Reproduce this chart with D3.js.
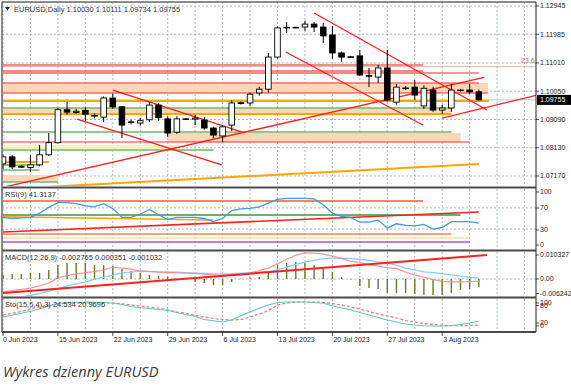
<!DOCTYPE html>
<meta charset="utf-8">
<title>EURUSD daily</title>
<style>
body { margin: 0; background: #fff; }
svg { display: block; }
text { font-family: "Liberation Sans", Arial, sans-serif; fill: #222; }
.ax { font-size: 7px; }
.hd { font-size: 7.5px; fill: #333; }
.caption { font-family: "Open Sans", sans-serif; font-style: italic; font-size: 14.6px; fill: #3a3a3a; }
</style>
<script src="https://cdnjs.cloudflare.com/ajax/libs/d3/7.8.5/d3.min.js"></script>
<body>
<script>
var W = 571, H = 386;

// bars: 8 Jun .. 8 Aug 2023 (broker feed with sunday bars)
var dateLabels = ["0 Jun 2023", "15 Jun 2023", "22 Jun 2023", "29 Jun 2023", "6 Jul 2023",
                  "13 Jul 2023", "20 Jul 2023", "27 Jul 2023", "3 Aug 2023"];
var openP  = [1.0758,1.0782,1.0750,1.0746,1.0755,1.0789,1.0830,1.0942,1.0933,1.0940,1.0920,1.0917,1.0982,1.0952,1.0900,1.0897,1.0908,1.0958,1.0911,1.0866,1.0911,1.0910,1.0907,1.0880,1.0853,1.0890,1.0963,1.0965,1.0999,1.1012,1.1121,1.1220,1.1222,1.1223,1.1233,1.1223,1.1196,1.1135,1.1122,1.1125,1.1058,1.1053,1.1084,1.0968,1.1016,1.1019,1.0955,1.1009,1.0941,1.0948,1.1009,1.1009,1.10030];
var highP  = [1.0790,1.0789,1.0753,1.0788,1.0822,1.0863,1.0948,1.0969,1.0945,1.0950,1.0930,1.0987,1.0997,1.0955,1.0908,1.0915,1.0968,1.0965,1.0920,1.0920,1.0914,1.0925,1.0917,1.0885,1.0890,1.0975,1.0970,1.1000,1.1020,1.1135,1.1225,1.1240,1.1224,1.1245,1.1240,1.1237,1.1227,1.1140,1.1125,1.1145,1.1084,1.1094,1.1145,1.1030,1.1022,1.1043,1.1025,1.1020,1.0960,1.1030,1.1012,1.1030,1.10111];
var lowP   = [1.0740,1.0741,1.0744,1.0731,1.0750,1.0785,1.0828,1.0925,1.0928,1.0904,1.0912,1.0900,1.0945,1.0846,1.0892,1.0888,1.0900,1.0905,1.0850,1.0860,1.0907,1.0890,1.0875,1.0845,1.0833,1.0870,1.0960,1.0955,1.0990,1.1000,1.1115,1.1203,1.1219,1.1210,1.1206,1.1169,1.1115,1.1105,1.1118,1.1057,1.1019,1.1033,1.0970,1.0960,1.1010,1.0975,1.0945,1.0935,1.0928,1.0935,1.1004,1.0995,1.09734];
var closeP = [1.0782,1.0748,1.0747,1.0755,1.0789,1.0830,1.0942,1.0934,1.0937,1.0927,1.0923,1.0982,1.0952,1.0890,1.0901,1.0905,1.0958,1.0915,1.0863,1.0911,1.0910,1.0914,1.0880,1.0856,1.0884,1.0965,1.0966,1.0995,1.1012,1.1121,1.1220,1.1222,1.1221,1.1233,1.1223,1.1193,1.1135,1.1121,1.1121,1.1060,1.1056,1.1084,1.0975,1.1019,1.1016,1.0992,1.1015,1.0941,1.0948,1.1009,1.1009,1.1003,1.09755];

var rsi = [52,50,51,52,60,71,80,80,78,74,72,78,69,52,52,58,67,57,48,52,52,52,50,44,50,65,68,69,72,79,86,88,88,88,87,76,60,54,52,43,43,47,32,40,37,36,39,30,33,44,44,44,41.31];
var macdHist = [0.0018,0.00215,0.00215,0.00258,0.00258,0.00387,0.0060,0.0069,0.0069,0.0069,0.0060,0.0060,0.0056,0.0043,0.0034,0.0026,0.0017,0.0013,0.0009,0.0003,0.0002,-0.0013,-0.0017,-0.0026,-0.0026,-0.0013,0.0002,0.0005,0.0009,0.0030,0.0060,0.0069,0.0073,0.0069,0.0060,0.0047,0.0030,0.0009,-0.0002,-0.0030,-0.0039,-0.0043,-0.0060,-0.0060,-0.0060,-0.0065,-0.0069,-0.0069,-0.0069,-0.0060,-0.0047,-0.0043,-0.0034];
var macdBlue = [-0.0090,-0.0085,-0.0078,-0.0070,-0.0063,-0.0052,-0.0042,-0.0030,-0.0021,-0.0012,-0.0002,0.0008,0.0017,0.0026,0.0030,0.0034,0.0033,0.0031,0.0030,0.0029,0.0027,0.0026,0.0024,0.0022,0.0022,0.0023,0.0025,0.0027,0.0029,0.0031,0.0040,0.0050,0.0063,0.0073,0.0080,0.0088,0.0090,0.0090,0.0088,0.0085,0.0080,0.0074,0.0068,0.0060,0.0047,0.0039,0.0031,0.0027,0.0023,0.0018,0.0012,0.0007,0.00035];
var macdPink = [-0.0056,-0.0050,-0.0045,-0.0039,-0.0030,-0.0018,0.0005,0.0015,0.0022,0.0027,0.0032,0.0039,0.0050,0.0047,0.0042,0.0035,0.0032,0.0030,0.0028,0.0026,0.0025,0.0023,0.0021,0.0018,0.0017,0.0017,0.0018,0.0026,0.0036,0.0047,0.0065,0.0085,0.0103,0.0112,0.0111,0.0107,0.0098,0.0088,0.0077,0.0070,0.0062,0.0055,0.0049,0.0045,0.0030,0.0018,0.0008,-0.0002,-0.0010,-0.0012,-0.0012,-0.0011,-0.0010];
var stoMain = [40,48,55,63,72,84,95,97,98,100,99,98,96,90,82,77,74,70,66,58,50,42,30,25,20,28,45,60,75,88,98,100,100,100,98,95,85,76,68,58,48,38,28,20,12,8,5,4,4,6,10,16,24];
var stoSig  = [48,55,62,72,80,88,92,96,96,96,96,96,96,93,88,84,80,76,68,60,54,46,40,34,30,28,30,40,52,65,88,96,100,100,100,98,94,88,80,72,62,52,44,36,26,20,14,10,7,5,5,6,8];

var priceTicks = [1.12945, 1.11985, 1.11010, 1.10050, 1.09090, 1.08130, 1.07170];
var lastPrice = 1.09755;
var fibLevel = 1.10883;

// levels: [price, fromBar, toBar]
var redLevels    = [[1.10941,0,45.9],[1.10737,0,45.9],[1.10669,0,52],[1.10329,0,52],[1.09990,0,53],[1.08325,0,51]];
var orangeLevels = [[1.09718,0,53.1],[1.09276,0,49],[1.07646,0,5]];
var greenLevels  = [[1.09480,0,49],[1.08665,0,49],[1.08053,0,23],[1.07544,0,4],[1.07374,0,4],[1.06966,0,6]];
// zones: [top, bottom, fromBar, toBar]
var peachZones   = [[1.10329,1.09990,0,53],[1.09480,1.09276,0,49],[1.08631,1.08325,18,50],[1.07204,1.06966,0,6]];
var pinkZones    = [[1.10985,1.10900,0,45.9],[1.10770,1.10640,0,45.9]];
var yellowZones  = [[1.08223,1.08087,0,19]];
// trend lines: [bar1, price1, bar2, price2]
var redTrends = [[0.2,1.0680,52.6,1.1052],[48,1.09140,58.4,1.09922],[34,1.12707,52.9,1.09412],
                 [30.9,1.11382,45.9,1.08903],[12,1.10091,26.4,1.08631],[8.1,1.09106,23.9,1.07544]];
var orangeTrends = [[0,1.0672,52,1.07578]];

// rsi overlays: [value1, value2, fromBar, toBar]
var rsiLines = [
  {c:"#ff5a36", v:[83,83,0,45.9]},
  {c:"#3a9a3a", v:[56.6,56.6,0,50]},
  {c:"#ffa500", v:[53.4,47.2,0,23]},
  {c:"#ff2020", v:[24.5,62.3,0,52]},
  {c:"#ff7f50", v:[20.8,20.8,0,49]},
  {c:"#f2e2a0", v:[13.2,13.2,0,51]},
  {c:"#b050e0", v:[5.7,5.7,0,51]}
];
var macdTrend = [0,-0.0060,52.9,0.0103];

var left = 2, right = 536;
var P = {
  main: {top: 2, bot: 186},
  rsi:  {top: 189, bot: 249},
  macd: {top: 252, bot: 296},
  sto:  {top: 299, bot: 331}
};

var x = d3.scaleLinear().domain([0, 52]).range([3, 478.8]);
var y = d3.scaleLinear().domain([1.07170, 1.12945]).range([176, 6]);
var yR = d3.scaleLinear().domain([0, 100]).range([245, 192]);
var yM = d3.scaleLinear().domain([-0.006242, 0.010327]).range([293.5, 255]);
var yS = d3.scaleLinear().domain([0, 100]).range([327, 302]);

var svg = d3.select("body").append("svg").attr("width", W).attr("height", H);
svg.append("rect").attr("width", W).attr("height", H).attr("fill", "#fff");

var defs = svg.append("defs");
Object.keys(P).forEach(function(k) {
  defs.append("clipPath").attr("id", "clip-" + k)
    .append("rect").attr("x", left).attr("y", P[k].top)
    .attr("width", right - left).attr("height", P[k].bot - P[k].top);
});

function panel(k) { return svg.append("g").attr("clip-path", "url(#clip-" + k + ")"); }

var gridColor = "#9aa7b8";
// vertical grid every 3 bars
var vgrid = d3.range(0, 59, 3);
Object.keys(P).forEach(function(k) {
  var g = panel(k);
  g.selectAll("line.v").data(vgrid).enter().append("line")
    .attr("x1", function(d) { return x(d); }).attr("x2", function(d) { return x(d); })
    .attr("y1", P[k].top).attr("y2", P[k].bot)
    .attr("stroke", gridColor).attr("stroke-width", 0.8).attr("stroke-dasharray", "2,2");
});

// ---------- main panel ----------
var gm = panel("main");
gm.selectAll("line.h").data(priceTicks).enter().append("line")
  .attr("x1", left).attr("x2", right)
  .attr("y1", function(d) { return y(d); }).attr("y2", function(d) { return y(d); })
  .attr("stroke", gridColor).attr("stroke-width", 0.8).attr("stroke-dasharray", "2,2");

function zones(data, color, op) {
  gm.selectAll(null).data(data).enter().append("rect")
    .attr("x", function(d) { return x(d[2]); })
    .attr("width", function(d) { return x(d[3]) - x(d[2]); })
    .attr("y", function(d) { return y(d[0]); })
    .attr("height", function(d) { return y(d[1]) - y(d[0]); })
    .attr("fill", color).attr("opacity", op);
}
zones(peachZones, "#fdd7b6", 1);
zones(pinkZones, "#ffb8b8", 0.4);
zones(yellowZones, "#faf0b8", 1);

// bid line
gm.append("line").attr("x1", left).attr("x2", right)
  .attr("y1", y(lastPrice)).attr("y2", y(lastPrice))
  .attr("stroke", "#b8c8dc").attr("stroke-width", 1);

// fibo 23.6
gm.append("line").attr("x1", left).attr("x2", right)
  .attr("y1", y(fibLevel)).attr("y2", y(fibLevel))
  .attr("stroke", "#d8b49a").attr("stroke-width", 1);

function levels(data, color, w) {
  gm.selectAll(null).data(data).enter().append("line")
    .attr("x1", function(d) { return x(d[1]); }).attr("x2", function(d) { return x(d[2]); })
    .attr("y1", function(d) { return y(d[0]); }).attr("y2", function(d) { return y(d[0]); })
    .attr("stroke", color).attr("stroke-width", w);
}
levels(greenLevels, "#6fb86f", 1.5);
levels(orangeLevels, "#ffa500", 2);
levels(redLevels, "#ff2a2a", 1.2);

function trends(data, color, w) {
  gm.selectAll(null).data(data).enter().append("line")
    .attr("x1", function(d) { return x(d[0]); }).attr("y1", function(d) { return y(d[1]); })
    .attr("x2", function(d) { return x(d[2]); }).attr("y2", function(d) { return y(d[3]); })
    .attr("stroke", color).attr("stroke-width", w);
}
trends(orangeTrends, "#ffa500", 2);
trends(redTrends, "#ff2020", 1.3);

// candles
var bars = d3.range(openP.length);
var cg = gm.selectAll("g.c").data(bars).enter().append("g");
cg.append("line")
  .attr("x1", function(i) { return x(i); }).attr("x2", function(i) { return x(i); })
  .attr("y1", function(i) { return y(highP[i]); }).attr("y2", function(i) { return y(lowP[i]); })
  .attr("stroke", "#000").attr("stroke-width", 1);
cg.append("rect")
  .attr("x", function(i) { return x(i) - 2.8; }).attr("width", 5.6)
  .attr("y", function(i) { return y(Math.max(openP[i], closeP[i])); })
  .attr("height", function(i) { return Math.max(0.6, Math.abs(y(openP[i]) - y(closeP[i]))); })
  .attr("fill", function(i) { return closeP[i] >= openP[i] ? "#fff" : "#000"; })
  .attr("stroke", "#000").attr("stroke-width", 0.9);

// ---------- RSI ----------
var gr = panel("rsi");
gr.selectAll(null).data([70, 30]).enter().append("line")
  .attr("x1", left).attr("x2", right)
  .attr("y1", function(d) { return yR(d); }).attr("y2", function(d) { return yR(d); })
  .attr("stroke", gridColor).attr("stroke-width", 0.8).attr("stroke-dasharray", "2,2");
gr.selectAll(null).data(rsiLines).enter().append("line")
  .attr("x1", function(d) { return x(d.v[2]); }).attr("x2", function(d) { return x(d.v[3]); })
  .attr("y1", function(d) { return yR(d.v[0]); }).attr("y2", function(d) { return yR(d.v[1]); })
  .attr("stroke", function(d) { return d.c; }).attr("stroke-width", 1.6);
gr.append("path").datum(rsi)
  .attr("d", d3.line().x(function(d, i) { return x(i); }).y(function(d) { return yR(d); }))
  .attr("fill", "none").attr("stroke", "#3d9be9").attr("stroke-width", 1.3);

// ---------- MACD ----------
var gmc = panel("macd");
gmc.append("line").attr("x1", left).attr("x2", right)
  .attr("y1", yM(0)).attr("y2", yM(0))
  .attr("stroke", gridColor).attr("stroke-width", 0.8).attr("stroke-dasharray", "2,2");
gmc.selectAll(null).data(macdHist).enter().append("line")
  .attr("x1", function(d, i) { return x(i); }).attr("x2", function(d, i) { return x(i); })
  .attr("y1", yM(0)).attr("y2", function(d) { return yM(d); })
  .attr("stroke", "#667a28").attr("stroke-width", 1.4);
gmc.append("path").datum(macdBlue)
  .attr("d", d3.line().x(function(d, i) { return x(i); }).y(function(d) { return yM(d); }))
  .attr("fill", "none").attr("stroke", "#87cefa").attr("stroke-width", 1.3);
gmc.append("path").datum(macdPink)
  .attr("d", d3.line().x(function(d, i) { return x(i); }).y(function(d) { return yM(d); }))
  .attr("fill", "none").attr("stroke", "#ff8080").attr("stroke-width", 1.3).attr("opacity", 0.8);
gmc.append("line")
  .attr("x1", x(macdTrend[0])).attr("y1", yM(macdTrend[1]))
  .attr("x2", x(macdTrend[2])).attr("y2", yM(macdTrend[3]))
  .attr("stroke", "#ff2020").attr("stroke-width", 2);

// ---------- Stochastic ----------
var gs = panel("sto");
gs.append("path").datum(stoSig)
  .attr("d", d3.line().x(function(d, i) { return x(i); }).y(function(d) { return yS(d); }))
  .attr("fill", "none").attr("stroke", "#ff7070").attr("stroke-width", 1.2).attr("stroke-dasharray", "3,2");
gs.append("path").datum(stoMain)
  .attr("d", d3.line().x(function(d, i) { return x(i); }).y(function(d) { return yS(d); }))
  .attr("fill", "none").attr("stroke", "#5fc8c0").attr("stroke-width", 1.2);

// ---------- frames ----------
svg.append("line").attr("x1", left).attr("x2", right).attr("y1", 2).attr("y2", 2)
  .attr("stroke", "#666").attr("stroke-width", 1.5);
[187.5, 250.5, 297.5, 332].forEach(function(v) {
  svg.append("line").attr("x1", left).attr("x2", right).attr("y1", v).attr("y2", v)
    .attr("stroke", "#4a4a4a").attr("stroke-width", 2);
});
svg.append("line").attr("x1", left).attr("x2", left).attr("y1", 2).attr("y2", 332)
  .attr("stroke", "#666").attr("stroke-width", 1.5);
svg.append("line").attr("x1", right).attr("x2", right).attr("y1", 2).attr("y2", 332)
  .attr("stroke", "#222").attr("stroke-width", 1);

// ---------- axis labels ----------
function rlabel(txt, yy) {
  svg.append("line").attr("x1", right).attr("x2", right + 3).attr("y1", yy).attr("y2", yy)
    .attr("stroke", "#222").attr("stroke-width", 0.8);
  svg.append("text").attr("class", "ax").attr("x", right + 4).attr("y", yy)
    .attr("dy", "0.35em").text(txt);
}
priceTicks.forEach(function(p) { rlabel(d3.format(".5f")(p), y(p)); });
svg.append("rect").attr("x", right + 1).attr("y", y(lastPrice) - 5).attr("width", 34).attr("height", 10)
  .attr("fill", "#000");
svg.append("text").attr("class", "ax").attr("x", right + 4).attr("y", y(lastPrice)).attr("dy", "0.35em")
  .style("fill", "#fff").text(d3.format(".5f")(lastPrice));
svg.append("text").attr("class", "ax").attr("x", right - 15).attr("y", y(fibLevel) - 4)
  .style("fill", "#b87850").text("23.6");

[[100, 192], [70, 208], [30, 230], [0, 245]].forEach(function(d) { rlabel(String(d[0]), d[1]); });
rlabel("0.010327", yM(0.010327));
rlabel("0.00", yM(0));
rlabel("-0.006242", yM(-0.006242));
rlabel("100", 303); rlabel("80", 305.5);
rlabel("20", 323); rlabel("0", 326);

// time axis
dateLabels.forEach(function(t, k) {
  var xx = x(k * 6);
  svg.append("line").attr("x1", xx).attr("x2", xx).attr("y1", 332).attr("y2", 336)
    .attr("stroke", "#222").attr("stroke-width", 0.8);
  svg.append("text").attr("class", "ax").attr("x", k === 0 ? 3 : xx + 1).attr("y", 340)
    .attr("dy", "0.35em").text(t);
});

// headers
svg.append("path").attr("d", "M5,7 L10,7 L7.5,10.5 Z").attr("fill", "#222");
svg.append("text").attr("class", "hd").attr("x", 14).attr("y", 9).attr("dy", "0.35em")
  .text("EURUSD,Daily  1.10030 1.10111 1.09734 1.09755");
svg.append("text").attr("class", "hd").attr("x", 5).attr("y", 194).attr("dy", "0.35em")
  .text("RSI(9) 41.3137");
svg.append("text").attr("class", "hd").attr("x", 5).attr("y", 257).attr("dy", "0.35em")
  .text("MACD(12,26,9) -0.002765 0.000351 -0.001032");
svg.append("text").attr("class", "hd").attr("x", 5).attr("y", 304).attr("dy", "0.35em")
  .text("Sto(15,5,4),3) 24.534 20.9696");

svg.append("text").attr("class", "caption").attr("x", 3).attr("y", 377)
  .text("Wykres dzienny EURUSD");
</script>
